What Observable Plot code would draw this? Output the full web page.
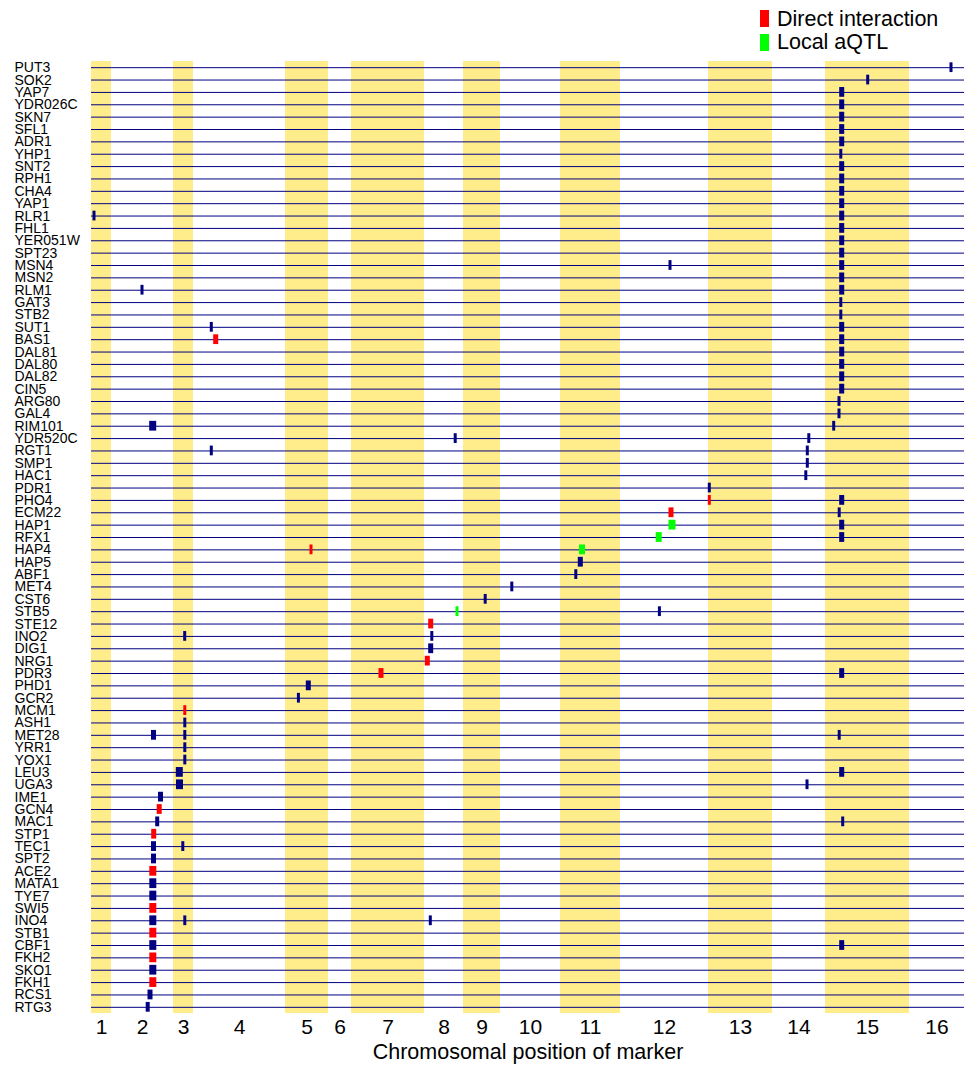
<!DOCTYPE html>
<html><head><meta charset="utf-8">
<script src="https://cdn.jsdelivr.net/npm/d3@7"></script>
<script src="https://cdn.jsdelivr.net/npm/@observablehq/plot@0.6"></script>
<style>
body{margin:0;background:#fff;font-family:"Liberation Sans",Arial,Helvetica,sans-serif;}
#wrap{position:relative;width:964px;}
#legend{position:absolute;left:0;top:0;height:61px;width:964px;z-index:2;}
.item{position:absolute;left:760px;display:flex;align-items:center;font-size:21.5px;line-height:22px;color:#000;}
.sw{width:9px;height:17px;margin-right:8px;}
#chart svg{display:block;}
</style></head><body>
<div id="wrap">
<div id="chart"></div>
<div id="legend"></div>
</div>
<script>
// Regulators (rows, top to bottom)
const genes = ["PUT3","SOK2","YAP7","YDR026C","SKN7","SFL1","ADR1","YHP1","SNT2","RPH1","CHA4","YAP1","RLR1","FHL1","YER051W","SPT23","MSN4","MSN2","RLM1","GAT3","STB2","SUT1","BAS1","DAL81","DAL80","DAL82","CIN5","ARG80","GAL4","RIM101","YDR520C","RGT1","SMP1","HAC1","PDR1","PHO4","ECM22","HAP1","RFX1","HAP4","HAP5","ABF1","MET4","CST6","STB5","STE12","INO2","DIG1","NRG1","PDR3","PHD1","GCR2","MCM1","ASH1","MET28","YRR1","YOX1","LEU3","UGA3","IME1","GCN4","MAC1","STP1","TEC1","SPT2","ACE2","MATA1","TYE7","SWI5","INO4","STB1","CBF1","FKH2","SKO1","FKH1","RCS1","RTG3"];

// Chromosomes and their lengths (in marker-position units)
const chromNames = ["1","2","3","4","5","6","7","8","9","10","11","12","13","14","15","16"];
const chromLengths = [20,62,20,92,43,23,73,39,37,60,60,88,64,53,84,55];

// Linkages: regulator, genome position, interval width, type (T = target linkage, D = direct interaction, L = local aQTL)
const linkGene = ["PUT3","SOK2","YAP7","YDR026C","SKN7","SFL1","ADR1","YHP1","SNT2","RPH1","CHA4","YAP1","RLR1","RLR1","FHL1","YER051W","SPT23","MSN4","MSN4","MSN2","RLM1","RLM1","GAT3","STB2","SUT1","SUT1","BAS1","BAS1","DAL81","DAL80","DAL82","CIN5","ARG80","GAL4","RIM101","RIM101","YDR520C","YDR520C","RGT1","RGT1","SMP1","HAC1","PDR1","PHO4","PHO4","ECM22","ECM22","HAP1","HAP1","RFX1","RFX1","HAP4","HAP4","HAP5","ABF1","MET4","CST6","STB5","STB5","STE12","INO2","INO2","DIG1","NRG1","PDR3","PDR3","PHD1","GCR2","MCM1","ASH1","MET28","MET28","MET28","YRR1","YOX1","LEU3","LEU3","UGA3","UGA3","IME1","GCN4","MAC1","MAC1","STP1","TEC1","TEC1","SPT2","ACE2","MATA1","TYE7","SWI5","INO4","INO4","INO4","STB1","CBF1","CBF1","FKH2","SKO1","FKH1","RCS1","RTG3"];
const linkPos = [860,776.7,750.7,750.7,750.7,750.7,750.7,749.8,750.7,750.7,750.7,750.7,3,750.7,750.7,750.7,750.7,579,750.7,750.7,51,750.7,749.8,749.8,120.3,750.7,124.7,750.7,750.7,750.7,750.7,750.7,748,748,61.7,742.7,364.2,717.8,120.3,716.3,716.3,714.8,618.3,618.3,750.7,580,748.2,581,750.7,567.7,750.7,220,491,489.3,484.8,420.8,394.2,366,568.4,339.7,93.7,340.8,339.7,336.3,290,750.7,217.3,207.4,93.8,93.8,62.5,93.8,748.2,93.8,93.8,88.3,750.7,88.5,716,69.5,68.2,66.2,751.7,62.7,62.5,91.8,62.5,61.8,61.8,61.8,61.8,61.8,93.8,339.3,61.8,61.8,750.7,61.8,61.8,61.8,59,56.7];
const linkWidth = [3,3,5,5,5,5,5,3,5,5,5,5,3,5,5,5,5,3,5,5,3,5,3,3,3,5,5,5,5,5,5,5,3,3,7,3,3,3,3,3,3,3,3,3,5,5,3,7,5,6,5,3,6,5,3,3,3,3,3,5,3,3,5,5,5,5,5,3,3,3,5,3,3,3,3,7,5,7,3,5,5,4,3,5,5,3,5,7,7,7,7,7,3,3,7,7,5,7,7,7,5,4];
const linkType = ["T","T","T","T","T","T","T","T","T","T","T","T","T","T","T","T","T","T","T","T","T","T","T","T","T","T","D","T","T","T","T","T","T","T","T","T","T","T","T","T","T","T","T","D","T","D","T","L","T","L","T","D","L","T","T","T","T","L","T","D","T","T","T","D","D","T","T","T","D","T","T","T","T","T","T","T","T","T","T","T","D","T","T","D","T","T","T","D","T","T","D","T","T","T","D","T","T","D","T","D","T","T"];

const typeColors = {T: "#000080", D: "#ff0000", L: "#00ff00"};
const legendItems = [["Direct interaction", "D"], ["Local aQTL", "L"]];

// derived tables
let acc = 0;
const chroms = chromNames.map((name, i) => {
  const start = acc; acc += chromLengths[i];
  return {name, start, end: acc, mid: (start + acc) / 2, odd: i % 2 === 0};
});
const total = acc;
const links = linkGene.map((g, i) => ({gene: g, pos: linkPos[i], w: linkWidth[i], type: linkType[i]}));

// legend
const leg = document.getElementById("legend");
legendItems.forEach(([label, t], i) => {
  const it = document.createElement("div");
  it.className = "item";
  it.style.top = (i === 0 ? 7.5 : 31) + "px";
  it.innerHTML = `<span class="sw" style="background:${typeColors[t]}"></span><span>${label}</span>`;
  leg.appendChild(it);
});

const chart = Plot.plot({
  width: 964,
  height: 1071,
  marginTop: 61,
  marginLeft: 91,
  marginRight: 0,
  marginBottom: 58,
  x: {domain: [0, total], axis: null},
  y: {type: "band", domain: genes, padding: 0, round: false, axis: null},
  color: {type: "identity"},
  style: {fontFamily: '"Liberation Sans", Arial, Helvetica, sans-serif', background: "#fff", color: "#000"},
  marks: [
    Plot.rect(chroms.filter(d => d.odd), {x1: "start", x2: "end", fill: "#FFEC8B"}),
    Plot.ruleY(genes, {y: d => d, stroke: "#000080", strokeWidth: 1}),
    Plot.barX(links, {x1: d => d.pos - d.w / 2, x2: d => d.pos + d.w / 2, y: "gene", fill: d => typeColors[d.type], insetTop: 1.3, insetBottom: 1.3}),
    Plot.text(genes, {y: d => d, text: d => d, frameAnchor: "left", textAnchor: "start", dx: -77, fontSize: 14, fill: "#000"}),
    Plot.text(chroms, {x: "mid", text: "name", frameAnchor: "bottom", lineAnchor: "middle", dy: 13.5, fontSize: 21, fill: "#000"}),
    Plot.text(["Chromosomal position of marker"], {text: d => d, frameAnchor: "bottom", lineAnchor: "middle", dy: 38.3, fontSize: 21.5, fill: "#000"})
  ]
});
document.getElementById("chart").appendChild(chart);
</script>
</body></html>
